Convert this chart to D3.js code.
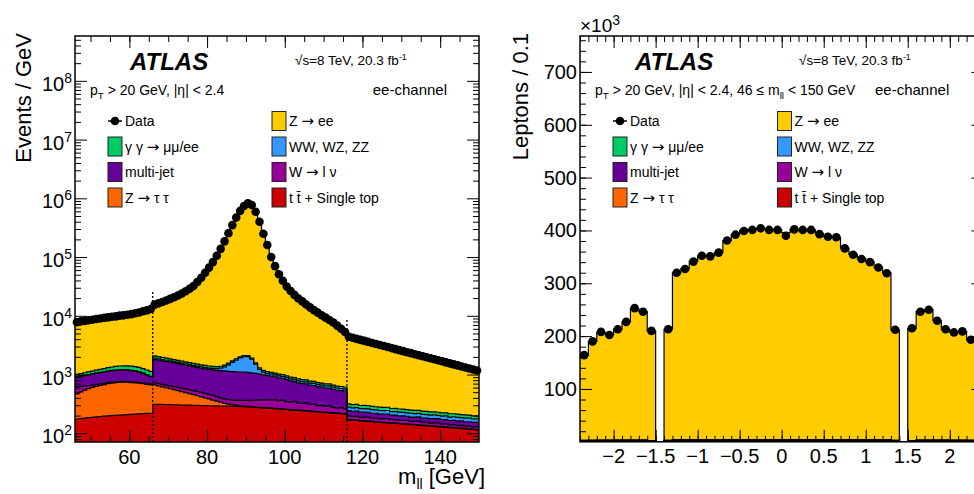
<!DOCTYPE html>
<html>
<head>
<meta charset="utf-8">
<script src="https://cdn.jsdelivr.net/npm/d3@7"></script>
<style>
  body { margin: 0; background: #ffffff; }
  svg text { font-family: 'Liberation Sans', Arial, Helvetica, sans-serif; fill: #000; }
</style>
</head>
<body>
<div id="chart"></div>
<script>
// ---------------- Data: left panel, m_ll in 1 GeV bins from 46 to 150 GeV ----------------
var massEdges = d3.range(46, 151);

var massData = [
    7800, 8050, 8150, 8420, 8580, 8830, 8970, 9230, 9380, 9640, 9780, 10050, 10180, 10430, 10680, 11040, 11370, 11930, 12380, 13050,
    15500, 16300, 17200, 18200, 19400, 20700, 22200, 24000, 26200, 28900, 32200, 37500, 44500, 54000, 66000, 82000, 105000, 138000, 185000, 255000,
    350000, 470000, 610000, 740000, 820000, 770000, 590000, 400000, 250000, 160000, 100000, 70000, 51000, 39500, 31500, 26500, 22700, 19700, 17600, 15600,
    13900, 12500, 11300, 10200, 9300, 8500, 7700, 6800, 6000, 5300,
    4400, 4220, 4050, 3890, 3740, 3590, 3450, 3310, 3180, 3060, 2940, 2820, 2710, 2600, 2500, 2400, 2310, 2220, 2130, 2050,
    1970, 1890, 1820, 1750, 1680, 1610, 1550, 1490, 1430, 1370, 1320, 1270, 1220, 1170];

var massZee = [
    6790, 6960, 7130, 7290, 7450, 7620, 7780, 7940, 8090, 8260, 8430, 8600, 8790, 8990, 9310, 9640, 10080, 10640, 11210, 11870,
    13400, 14300, 15200, 16300, 17600, 18900, 20500, 22300, 24600, 27300, 30700, 36000, 43000, 52600, 64600, 80600, 103600, 136600, 183500, 253400,
    348300, 468100, 608000, 738000, 818000, 768000, 588400, 398700, 248800, 158900, 98900, 68900, 50000, 38500, 30550, 25600, 21800, 18860, 16780, 14790,
    13125, 11740, 10570, 9480, 8610, 7810, 7040, 6170, 5375, 4690,
    4083, 3913, 3740, 3593, 3441, 3296, 3163, 3027, 2902, 2785, 2663, 2556, 2444, 2341, 2243, 2147, 2062, 1974, 1884, 1811,
    1735, 1658, 1588, 1522, 1457, 1387, 1335, 1275, 1218, 1162, 1115, 1066, 1022, 972];

var massGamma = [
    80, 90, 100, 110, 120, 130, 140, 150, 160, 170, 180, 190, 200, 205, 208, 210, 208, 205, 200, 195,
    175, 165, 155, 148, 142, 136, 132, 128, 125, 122, 118, 115, 112, 110, 108, 105, 102, 100, 98, 96,
    94, 92, 90, 88, 86, 84, 82, 80, 78, 76, 74, 72, 71, 70, 68, 66, 65, 63, 62, 60,
    59, 57, 56, 54, 53, 52, 50, 49, 48, 47,
    38, 36, 37, 35, 36, 34, 35, 33, 34, 32, 33, 31, 32, 30, 31, 30, 29, 30, 28, 29,
    27, 28, 27, 26, 27, 25, 26, 24, 25, 23, 24, 22, 23, 22];

var massDiboson = [
    8, 8, 9, 9, 9, 10, 10, 10, 10, 11, 11, 11, 11, 12, 12, 12, 12, 12, 12, 12,
    100, 95, 90, 86, 82, 80, 78, 76, 74, 72, 70, 68, 66, 68, 70, 75, 85, 120, 200, 330,
    490, 650, 810, 910, 930, 760, 450, 200, 110, 85, 75, 70, 68, 66, 64, 62, 60, 60, 58, 57,
    56, 55, 54, 52, 51, 50, 49, 48, 47, 46,
    36, 34, 35, 33, 34, 32, 33, 31, 32, 30, 31, 29, 30, 31, 29, 28, 30, 27, 28, 29,
    26, 27, 28, 25, 26, 27, 24, 25, 26, 23, 24, 25, 22, 23];

var massMultijet = [
    300, 310, 325, 340, 355, 370, 385, 398, 410, 420, 430, 435, 435, 430, 415, 395, 370, 330, 280, 235,
    1075, 1050, 1028, 1003, 979, 952, 926, 899, 872, 849, 826, 804, 782, 770, 760, 758, 760, 762, 764, 760,
    756, 749, 742, 734, 726, 705, 684, 652, 621, 596, 571, 546, 522, 498, 474, 442, 410, 393, 377, 364,
    351, 338, 325, 314, 304, 294, 285, 270, 256, 257,
    46, 44, 43, 42, 41, 40, 39, 38, 37, 36, 35, 34, 33, 32, 31, 30, 30, 29, 29, 28,
    28, 28, 27, 27, 27, 27, 26, 26, 26, 26, 25, 25, 25, 25];

var massWlnu = [
    150, 120, 95, 75, 60, 48, 40, 34, 30, 27, 25, 24, 23, 22, 22, 22, 22, 22, 22, 22,
    60, 62, 64, 66, 68, 70, 72, 74, 76, 78, 80, 80, 80, 78, 76, 72, 68, 64, 62, 62,
    64, 66, 70, 74, 78, 82, 86, 90, 95, 98, 100, 104, 96, 108, 90, 85, 100, 80, 78, 88,
    70, 76, 62, 66, 58, 70, 52, 46, 56, 48,
    26, 24, 28, 22, 25, 27, 21, 24, 20, 23, 26, 19, 22, 18, 20, 21, 17, 19, 22, 16,
    18, 15, 17, 19, 14, 16, 13, 15, 12, 14, 11, 13, 10, 12];

var massZtautau = [
    295, 330, 362, 390, 415, 437, 457, 475, 500, 515, 526, 532, 534, 531, 520, 510, 496, 480, 462, 446,
    353, 330, 308, 287, 266, 246, 227, 208, 190, 172, 155, 138, 122, 106, 90, 75, 60, 46, 34, 24,
    16, 11, 8, 6, 5, 4, 4, 3, 3, 3, 3, 3, 2, 2, 2, 2, 2, 2, 2, 2,
    2, 2, 2, 2, 2, 2, 2, 2, 2, 2,
    2, 2, 2, 2, 2, 2, 2, 2, 2, 2, 2, 2, 2, 2, 2, 2, 2, 2, 2, 2,
    2, 2, 2, 2, 2, 2, 2, 2, 2, 2, 2, 2, 2, 2];

var massTop = [
    175, 178, 181, 184, 187, 190, 193, 196, 198, 200, 202, 204, 206, 208, 210, 212, 214, 216, 218, 219,
    312, 311, 310, 309, 307, 306, 305, 303, 302, 301, 299, 298, 296, 295, 294, 293, 292, 291, 290, 289,
    288, 287, 285, 283, 281, 278, 276, 273, 271, 268, 266, 263, 260, 257, 254, 251, 248, 245, 243, 240,
    237, 234, 231, 228, 226, 223, 221, 219, 216, 213,
    169, 167, 165, 163, 161, 159, 157, 155, 153, 152, 150, 149, 147, 146, 144, 142, 140, 139, 137, 135,
    134, 132, 131, 129, 127, 126, 124, 123, 121, 120, 119, 117, 116, 114];

// Mass windows marked with dotted lines, and how high each line reaches.
var massCuts = [66, 116];
var massCutTops = [26000, 8500];

// ---------------- Data: right panel, eta in 0.1 bins (values x 10^3) ----------------
var etaEdges = d3.range(-24, 25).map(function(k){ return k / 10; });

var etaData = [
    164, 190, 208, 202, 213, 227, 253, 246, 210, null,
    213, 320, 327, 341, 352, 351, 358, 381, 392, 399, 401, 404, 401, 401,
    390, 402, 401, 401, 393, 388, 387, 366, 354, 346, 340, 330, 319, 212,
    null, 215, 246, 250, 229, 213, 207, 209, 193, 165];

var etaZee = [
    161, 187, 204, 200, 210, 224, 249, 243, 207, 0,
    210, 316, 324, 338, 348, 348, 355, 377, 389, 396, 398, 400, 398, 397,
    392, 398, 397, 397, 390, 385, 383, 363, 351, 343, 337, 327, 316, 209,
    0, 212, 243, 247, 226, 210, 204, 206, 190, 162];

var etaGamma = [
    0.1, 0.1, 0.1, 0.1, 0.1, 0.1, 0.1, 0.1, 0.1, 0,
    0.1, 0.2, 0.2, 0.2, 0.2, 0.2, 0.2, 0.2, 0.2, 0.2, 0.2, 0.2, 0.2, 0.2,
    0.2, 0.2, 0.2, 0.2, 0.2, 0.2, 0.2, 0.2, 0.2, 0.2, 0.2, 0.2, 0.2, 0.1,
    0, 0.1, 0.1, 0.1, 0.1, 0.1, 0.1, 0.1, 0.1, 0.1];

var etaDiboson = [
    0.1, 0.1, 0.2, 0.2, 0.2, 0.2, 0.2, 0.2, 0.1, 0,
    0.2, 0.3, 0.3, 0.3, 0.3, 0.3, 0.3, 0.3, 0.3, 0.3, 0.3, 0.3, 0.3, 0.3,
    0.3, 0.3, 0.3, 0.3, 0.3, 0.3, 0.3, 0.3, 0.3, 0.3, 0.3, 0.3, 0.3, 0.2,
    0, 0.1, 0.2, 0.2, 0.2, 0.2, 0.2, 0.2, 0.1, 0.1];

var etaMultijet = [
    1.4, 1.4, 1.3, 1.3, 1.3, 1.2, 1.2, 1.2, 1.0, 0,
    1.0, 1.1, 1.1, 1.0, 1.0, 1.0, 0.9, 0.9, 0.9, 0.9, 0.9, 0.9, 0.9, 0.9,
    0.9, 0.9, 0.9, 0.9, 0.9, 0.9, 0.9, 1.0, 1.0, 1.0, 1.1, 1.1, 1.1, 1.0,
    0, 1.0, 1.2, 1.2, 1.2, 1.3, 1.3, 1.3, 1.4, 1.4];

var etaWlnu = [
    0.3, 0.3, 0.3, 0.3, 0.3, 0.3, 0.3, 0.3, 0.2, 0,
    0.2, 0.3, 0.3, 0.3, 0.3, 0.3, 0.3, 0.3, 0.3, 0.3, 0.3, 0.3, 0.3, 0.3,
    0.3, 0.3, 0.3, 0.3, 0.3, 0.3, 0.3, 0.3, 0.3, 0.3, 0.3, 0.3, 0.3, 0.2,
    0, 0.2, 0.3, 0.3, 0.3, 0.3, 0.3, 0.3, 0.3, 0.3];

var etaZtautau = [
    0.2, 0.3, 0.3, 0.3, 0.3, 0.4, 0.4, 0.4, 0.3, 0,
    0.3, 0.5, 0.5, 0.5, 0.5, 0.5, 0.5, 0.6, 0.6, 0.6, 0.6, 0.6, 0.6, 0.6,
    0.6, 0.6, 0.6, 0.6, 0.6, 0.6, 0.5, 0.5, 0.5, 0.5, 0.5, 0.5, 0.5, 0.3,
    0, 0.3, 0.4, 0.4, 0.4, 0.3, 0.3, 0.3, 0.3, 0.2];

var etaTop = [
    0.6, 0.7, 0.8, 0.8, 0.9, 0.9, 1.0, 1.0, 0.8, 0,
    0.9, 1.3, 1.3, 1.4, 1.4, 1.4, 1.5, 1.5, 1.5, 1.5, 1.6, 1.6, 1.6, 1.6,
    1.6, 1.6, 1.6, 1.6, 1.5, 1.5, 1.5, 1.5, 1.4, 1.4, 1.4, 1.3, 1.3, 0.9,
    0, 0.8, 1.0, 1.0, 0.9, 0.9, 0.8, 0.8, 0.7, 0.6];

// ---------------- Categories and tick labels ----------------
// Stack order, bottom to top.
var stackKeys = ['top', 'ztautau', 'wlnu', 'multijet', 'diboson', 'gamma', 'zee'];
var stackColors = ['#cc0000', '#ff6600', '#990099', '#660099', '#3399ff', '#00cc66', '#ffcc00'];

var legendLeftCol = [['Data', null], ['\u03b3 \u03b3 \u2192 \u03bc\u03bc/ee', '#00cc66'], ['multi-jet', '#660099'], ['Z \u2192 \u03c4 \u03c4', '#ff6600']];
var legendRightCol = [['Z \u2192 ee', '#ffcc00'], ['WW, WZ, ZZ', '#3399ff'], ['W \u2192 l \u03bd', '#990099'], ['t t\u0304 + Single top', '#cc0000']];

var massTicks = [60, 80, 100, 120, 140];
var massMinorTicks = d3.range(50, 150, 5);
var logExponents = [2, 3, 4, 5, 6, 7, 8];
var etaTicks = [-2, -1.5, -1, -0.5, 0, 0.5, 1, 1.5, 2];
var etaMinorTicks = d3.range(-24, 25).map(function(k){ return k / 10; });
var leptonTicks = [100, 200, 300, 400, 500, 600, 700];
var leptonMinorTicks = d3.range(20, 768, 20);

// ---------------- Layout ----------------
var svgWidth = 974, svgHeight = 494;
var leftPanel = {x: 75, y: 36, w: 404, h: 406};
var rightPanel = {x: 580, y: 36, w: 403.4, h: 405.8};

var svg = d3.select('#chart')
    .append('svg')
        .attr('width', svgWidth)
        .attr('height', svgHeight);

// Small helper for text with sub- and superscripts: parts = [[text, 'sub' | 'sup' | null, shift, size], ...]
function richText(parent, x, y, size, parts, anchor){
    var t = parent.append('text')
        .attr('x', x)
        .attr('y', y)
        .attr('text-anchor', anchor || 'start')
        .style('font-size', size + 'px');
    var shift = 0;
    parts.forEach(function(p){
        var s = 0, fs = size;
        if (p[1] === 'sub') { s = p[2] !== undefined ? p[2] : size * 0.3; fs = p[3] || size * 0.7; }
        if (p[1] === 'sup') { s = p[2] !== undefined ? p[2] : -size * 0.42; fs = p[3] || size * 0.7; }
        t.append('tspan')
            .attr('dy', s - shift)
            .style('font-size', fs + 'px')
            .text(p[0]);
        shift = s;
    });
    return t;
}

// Turn stacked bins into step points for a histogram outline.
function stepPoints(edges, series){
    var pts = [];
    series.forEach(function(d, i){
        pts.push({x: edges[i], y0: d[0], y1: d[1]});
        pts.push({x: edges[i + 1], y0: d[0], y1: d[1]});
    });
    return pts;
}

// Draw the stacked histogram with black outlines.
function drawStack(g, edges, rows, x, y, floor){
    var stacked = d3.stack().keys(stackKeys)(rows);
    var area = d3.area()
        .x(function(d){ return x(d.x); })
        .y0(function(d){ return y(Math.max(d.y0, floor)); })
        .y1(function(d){ return y(Math.max(d.y1, floor)); });
    var line = d3.line()
        .x(function(d){ return x(d.x); })
        .y(function(d){ return y(Math.max(d.y1, floor)); });
    stacked.forEach(function(s, k){
        g.append('path')
            .attr('d', area(stepPoints(edges, s)))
            .attr('fill', stackColors[k])
            .attr('stroke', 'none');
    });
    stacked.forEach(function(s){
        g.append('path')
            .attr('d', line(stepPoints(edges, s)))
            .attr('fill', 'none')
            .attr('stroke', '#000')
            .attr('stroke-width', 1.2);
    });
}

// Inward ticks on all four sides, ROOT style.
function drawTicks(g, x, y, w, h, xMaj, xMin, yMaj, yMin){
    var sides = [
        [d3.axisBottom, x, 'translate(0,' + h + ')'],
        [d3.axisTop, x, 'translate(0,0)'],
        [d3.axisLeft, y, 'translate(0,0)'],
        [d3.axisRight, y, 'translate(' + w + ',0)']
    ];
    sides.forEach(function(s, i){
        var maj = i < 2 ? xMaj : yMaj, min = i < 2 ? xMin : yMin;
        [[maj, -12], [min, -6]].forEach(function(t){
            g.append('g')
                .attr('transform', s[2])
                .call(s[0](s[1]).tickValues(t[0]).tickSize(t[1]).tickFormat(''))
                .call(function(a){ a.select('.domain').remove(); })
                .selectAll('line').attr('stroke-width', 1);
        });
    });
}

// Legend text: the arrows are set in DejaVu Sans so they come out wider, like ROOT's symbol font.
function legendText(x, y, label){
    var t = svg.append('text')
        .attr('x', x)
        .attr('y', y)
        .style('font-size', '14px');
    label.split('\u2192').forEach(function(piece, i){
        if (i > 0) {
            t.append('tspan')
                .style('font-family', "'DejaVu Sans', sans-serif")
                .style('font-size', '15px')
                .text('\u2192');
        }
        t.append('tspan').text(piece);
    });
}

// Legend: two columns of four rows.
function drawLegend(col1x, col2x){
    var rowsY = [121, 146.5, 172, 197.5];
    [[legendLeftCol, col1x], [legendRightCol, col2x]].forEach(function(c){
        c[0].forEach(function(e, i){
            var cy = rowsY[i];
            if (e[1] === null) {
                svg.append('line')
                    .attr('x1', c[1]).attr('x2', c[1] + 14)
                    .attr('y1', cy).attr('y2', cy)
                    .attr('stroke', '#000').attr('stroke-width', 1.5);
                svg.append('circle')
                    .attr('cx', c[1] + 7).attr('cy', cy).attr('r', 4.3)
                    .attr('fill', '#000');
            } else {
                svg.append('rect')
                    .attr('x', c[1]).attr('y', cy - 9.5)
                    .attr('width', 14).attr('height', 19)
                    .attr('fill', e[1])
                    .attr('stroke', '#222').attr('stroke-width', 1);
            }
            legendText(c[1] + 17, cy + 5, e[0]);
        });
    });
}

// ======================= Left panel: m_ll, log scale =======================
var xMass = d3.scaleLinear().domain([46, 150]).range([0, leftPanel.w]);
var yMass = d3.scaleLog().domain([71, 5.8e8]).range([leftPanel.h, 0]).clamp(true);

var massRows = massData.map(function(d, i){
    return {top: massTop[i], ztautau: massZtautau[i], wlnu: massWlnu[i], multijet: massMultijet[i],
            diboson: massDiboson[i], gamma: massGamma[i], zee: massZee[i]};
});

svg.append('clipPath').attr('id', 'clipLeft')
    .append('rect').attr('width', leftPanel.w).attr('height', leftPanel.h);

var gl = svg.append('g')
    .attr('transform', 'translate(' + leftPanel.x + ',' + leftPanel.y + ')');

var glPlot = gl.append('g').attr('clip-path', 'url(#clipLeft)');
drawStack(glPlot, massEdges, massRows, xMass, yMass, 1);

// Dotted lines at the mass-window boundaries.
glPlot.selectAll('.cut')
    .data(massCuts)
    .enter().append('line')
        .attr('x1', function(d){ return xMass(d); })
        .attr('x2', function(d){ return xMass(d); })
        .attr('y1', leftPanel.h)
        .attr('y2', function(d, i){ return yMass(massCutTops[i]); })
        .attr('stroke', '#000')
        .attr('stroke-width', 1.3)
        .attr('stroke-dasharray', '2,2');

drawTicks(gl, xMass, yMass, leftPanel.w, leftPanel.h,
    massTicks, massMinorTicks,
    logExponents.map(function(e){ return Math.pow(10, e); }),
    d3.range(1, 9).reduce(function(acc, e){
        return acc.concat(d3.range(2, 10).map(function(k){ return k * Math.pow(10, e); }));
    }, []).filter(function(v){ return v > 71 && v < 5.8e8; }));

gl.append('rect')
    .attr('width', leftPanel.w).attr('height', leftPanel.h)
    .attr('fill', 'none').attr('stroke', '#000').attr('stroke-width', 1.5);

// Data points.
gl.selectAll('.pt')
    .data(massData)
    .enter().append('circle')
        .attr('cx', function(d, i){ return xMass((massEdges[i] + massEdges[i + 1]) / 2); })
        .attr('cy', function(d){ return yMass(d); })
        .attr('r', 4.3)
        .attr('fill', '#000');

// Tick labels.
gl.selectAll('.xl')
    .data(massTicks)
    .enter().append('text')
        .attr('x', function(d){ return xMass(d); })
        .attr('y', leftPanel.h + 21.5)
        .attr('text-anchor', 'middle')
        .style('font-size', '20px')
        .text(function(d){ return d; });

logExponents.forEach(function(e){
    richText(gl, -3, yMass(Math.pow(10, e)) + 10, 20, [['10', null], [String(e), 'sup', -8, 14]], 'end');
});

// Axis titles.
richText(svg, 485, 484, 22, [['m', null], ['ll', 'sub', 4.5, 14], [' [GeV]', null]], 'end');
svg.append('text')
    .attr('transform', 'translate(31,33) rotate(-90)')
    .attr('text-anchor', 'end')
    .style('font-size', '22px')
    .text('Events / GeV');

// Labels.
svg.append('text')
    .attr('x', 130).attr('y', 70)
    .style('font-size', '24px').style('font-weight', 'bold').style('font-style', 'italic')
    .text('ATLAS');
richText(svg, 295, 65, 13.5, [['\u221as=8 TeV, 20.3 fb', null], ['-1', 'sup', -5, 9]]);
richText(svg, 90, 95, 14, [['p', null], ['T', 'sub'], [' > 20 GeV, |\u03b7| < 2.4', null]]);
svg.append('text')
    .attr('x', 447).attr('y', 95).attr('text-anchor', 'end')
    .style('font-size', '15px')
    .text('ee-channel');
drawLegend(108, 272);

// ======================= Right panel: eta, linear scale =======================
var xEta = d3.scaleLinear().domain([-2.4, 2.4]).range([0, rightPanel.w]);
var yEta = d3.scaleLinear().domain([0, 768]).range([rightPanel.h, 0]);

var etaRows = etaZee.map(function(d, i){
    return {top: etaTop[i], ztautau: etaZtautau[i], wlnu: etaWlnu[i], multijet: etaMultijet[i],
            diboson: etaDiboson[i], gamma: etaGamma[i], zee: etaZee[i]};
});

svg.append('clipPath').attr('id', 'clipRight')
    .append('rect').attr('width', rightPanel.w).attr('height', rightPanel.h);

var gr = svg.append('g')
    .attr('transform', 'translate(' + rightPanel.x + ',' + rightPanel.y + ')');

var grPlot = gr.append('g').attr('clip-path', 'url(#clipRight)');
drawStack(grPlot, etaEdges, etaRows, xEta, yEta, 0);

drawTicks(gr, xEta, yEta, rightPanel.w, rightPanel.h,
    etaTicks, etaMinorTicks, leptonTicks, leptonMinorTicks);

gr.append('rect')
    .attr('width', rightPanel.w).attr('height', rightPanel.h)
    .attr('fill', 'none').attr('stroke', '#000').attr('stroke-width', 1.5);

gr.selectAll('.pt')
    .data(etaData.map(function(d, i){ return {v: d, i: i}; }).filter(function(d){ return d.v !== null; }))
    .enter().append('circle')
        .attr('cx', function(d){ return xEta((etaEdges[d.i] + etaEdges[d.i + 1]) / 2); })
        .attr('cy', function(d){ return yEta(d.v); })
        .attr('r', 4.3)
        .attr('fill', '#000');

gr.selectAll('.xl')
    .data(etaTicks)
    .enter().append('text')
        .attr('x', function(d){ return xEta(d); })
        .attr('y', rightPanel.h + 21)
        .attr('text-anchor', 'middle')
        .style('font-size', '20px')
        .text(function(d){ return String(d).replace('-', '\u2212'); });

gr.selectAll('.yl')
    .data(leptonTicks)
    .enter().append('text')
        .attr('x', -3)
        .attr('y', function(d){ return yEta(d) + 7; })
        .attr('text-anchor', 'end')
        .style('font-size', '20px')
        .text(function(d){ return d; });

richText(svg, 580, 31.7, 19, [['\u00d710', null], ['3', 'sup', -7, 14]]);

svg.append('text')
    .attr('transform', 'translate(528,33) rotate(-90)')
    .attr('text-anchor', 'end')
    .style('font-size', '22px')
    .text('Leptons / 0.1');
// Axis title of the right panel: it runs past the window's edge, as in the original.
svg.append('text')
    .attr('x', 986).attr('y', 487).attr('text-anchor', 'end')
    .style('font-size', '22px')
    .text('\u03b7');

svg.append('text')
    .attr('x', 635).attr('y', 70)
    .style('font-size', '24px').style('font-weight', 'bold').style('font-style', 'italic')
    .text('ATLAS');
richText(svg, 799, 65, 13.5, [['\u221as=8 TeV, 20.3 fb', null], ['-1', 'sup', -5, 9]]);
richText(svg, 595, 95, 14, [['p', null], ['T', 'sub'], [' > 20 GeV, |\u03b7| < 2.4, 46 \u2264 m', null], ['ll', 'sub'], [' < 150 GeV', null]]);
svg.append('text')
    .attr('x', 875).attr('y', 95)
    .style('font-size', '15px')
    .text('ee-channel');
drawLegend(613, 777.5);
</script>
</body>
</html>
